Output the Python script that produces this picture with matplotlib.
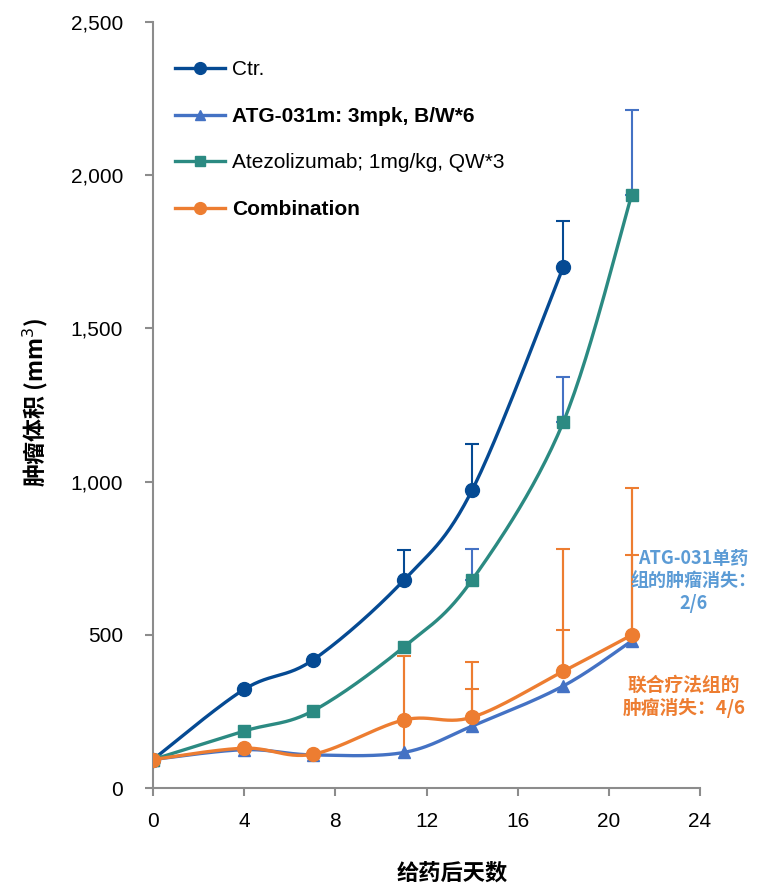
import numpy as np
import matplotlib
matplotlib.use("Agg")
import matplotlib.pyplot as plt
from matplotlib.ticker import FuncFormatter
from matplotlib.lines import Line2D

# ---------------- data ----------------
days = [0, 4, 7, 11, 14, 18, 21]
ctr_days = [0, 4, 7, 11, 14, 18]
ctr = [93, 322, 417, 678, 972, 1700]
atg = [93, 125, 108, 116, 202, 333, 480]
atezo = [93, 186, 251, 460, 679, 1194, 1935]
combo = [93, 130, 110, 222, 231, 381, 499]

ctr_err_days = [11, 14, 18]
ctr_err_top = [777, 1124, 1850]
atezo_err_days = [14, 18, 21]
atezo_err_top = [780, 1341, 2213]
combo_err_days = [11, 14, 18, 21]
combo_err_top = [431, 411, 780, 979]
combo_err_low = [117, 231, 381, 499]
combo_err_mid_days = [14, 18, 21]
combo_err_mid = [323, 516, 760]

labels = ["Ctr.", "ATG-031m: 3mpk, B/W*6", "Atezolizumab; 1mg/kg, QW*3", "Combination"]
x_ticks = [0, 4, 8, 12, 16, 20, 24]
y_ticks = [0, 500, 1000, 1500, 2000, 2500]
ann_atg = "ATG-031单药\n组的肿瘤消失：\n2/6"
ann_combo = "联合疗法组的\n肿瘤消失：4/6"
xlabel = "给药后天数"
ylabel = "肿瘤体积 (mm$^3$)"

C_CTR = "#054A93"
C_ATG = "#4472C4"
C_ATZ = "#2B8A82"
C_CMB = "#ED7D31"
C_ANN = "#5B9BD5"
GRAY = "#8C8C8C"

plt.rcParams['font.family'] = ['Liberation Sans', 'DejaVu Sans']


def smooth(xs, ys, n=30):
    p = np.column_stack([xs, ys]).astype(float)
    p = np.vstack([p[0], p, p[-1]])
    out = []
    t = np.linspace(0, 1, n)[:, None]
    for i in range(1, len(p) - 2):
        p0, p1, p2, p3 = p[i - 1], p[i], p[i + 1], p[i + 2]
        seg = 0.5 * ((2 * p1) + (-p0 + p2) * t + (2 * p0 - 5 * p1 + 4 * p2 - p3) * t ** 2
                     + (-p0 + 3 * p1 - 3 * p2 + p3) * t ** 3)
        out.append(seg if i == 1 else seg[1:])
    out = np.vstack(out)
    return out[:, 0], out[:, 1]


fig = plt.figure(figsize=(7.59, 8.85), dpi=100)
ax = fig.add_axes([0.2016, 0.1096, 0.7207, 0.8655])

lw = 2.4
cap = 5

# error bars (drawn first, behind lines)
ax.errorbar(ctr_err_days, [ctr[ctr_days.index(d)] for d in ctr_err_days],
            yerr=[[0] * 3, [t - ctr[ctr_days.index(d)] for d, t in zip(ctr_err_days, ctr_err_top)]],
            fmt='none', ecolor=C_CTR, elinewidth=1.5, capsize=cap, capthick=1.5, zorder=2)
ax.errorbar(atezo_err_days, [atezo[days.index(d)] for d in atezo_err_days],
            yerr=[[0] * 3, [t - atezo[days.index(d)] for d, t in zip(atezo_err_days, atezo_err_top)]],
            fmt='none', ecolor=C_ATG, elinewidth=1.5, capsize=cap, capthick=1.5, zorder=2)
cm = [combo[days.index(d)] for d in combo_err_days]
ax.errorbar(combo_err_days, cm,
            yerr=[[m - l for m, l in zip(cm, combo_err_low)], [t - m for t, m in zip(combo_err_top, cm)]],
            fmt='none', ecolor=C_CMB, elinewidth=1.5, capsize=0, zorder=2)
ax.errorbar(combo_err_days, cm,
            yerr=[[0] * 4, [t - m for t, m in zip(combo_err_top, cm)]],
            fmt='none', ecolor=C_CMB, elinewidth=1.5, capsize=cap, capthick=1.5, zorder=2)
cm2 = [combo[days.index(d)] for d in combo_err_mid_days]
ax.errorbar(combo_err_mid_days, cm2,
            yerr=[[0] * 3, [t - m for t, m in zip(combo_err_mid, cm2)]],
            fmt='none', ecolor=C_CMB, elinewidth=1.5, capsize=cap, capthick=1.5, zorder=2)

series = [
    (ctr_days, ctr, C_CTR, 'o', 10),
    (days, atg, C_ATG, '^', 9),
    (days, atezo, C_ATZ, 's', 8),
    (days, combo, C_CMB, 'o', 10),
]
handles = []
for i, (xs, ys, c, m, ms) in enumerate(series):
    sx, sy = smooth(xs, ys)
    ax.plot(sx, sy, color=c, lw=lw, zorder=3 + i, solid_capstyle='round')
    ax.plot(xs, ys, linestyle='none', marker=m, color=c, markersize=ms, zorder=3 + i)
    handles.append(Line2D([], [], color=c, lw=lw, marker=m, markersize=ms * 0.85))

ax.set_xlim(0, 24)
ax.set_ylim(0, 2500)
ax.set_xticks(x_ticks)
ax.set_yticks(y_ticks)
ax.yaxis.set_major_formatter(FuncFormatter(lambda v, p: f"{int(v):,}"))
for s in ['top', 'right']:
    ax.spines[s].set_visible(False)
for s in ['left', 'bottom']:
    ax.spines[s].set_color(GRAY)
    ax.spines[s].set_linewidth(1.5)
ax.tick_params(axis='both', direction='out', length=6, width=1.5, color=GRAY,
               labelsize=15, labelcolor='black')
ax.tick_params(axis='y', pad=15.5)
ax.tick_params(axis='x', pad=11)

leg = ax.legend(handles, labels, loc='upper left', bbox_to_anchor=(0.04, 0.950),
                frameon=False, fontsize=15, handlelength=2.4, handletextpad=0.34,
                labelspacing=1.32, borderpad=0, borderaxespad=0)
for i in (1, 3):
    leg.get_texts()[i].set_fontweight('bold')

cjk = ['Noto Sans CJK SC', 'DejaVu Sans']
ax.text(0.988, 0.270, ann_atg, transform=ax.transAxes, ha='center', va='center',
        color=C_ANN, fontsize=13, fontweight='bold', family=cjk, linespacing=1.25)
ax.text(0.971, 0.119, ann_combo, transform=ax.transAxes, ha='center', va='center',
        color=C_CMB, fontsize=13.5, fontweight='bold', family=cjk, linespacing=1.2)

fig.text(0.5955, 0.0136, xlabel, ha='center', va='center', fontsize=16,
         fontweight='bold', family=cjk)
fig.text(0.047, 0.546, ylabel, ha='center', va='center', rotation=90, fontsize=16.5,
         fontweight='bold', family=cjk)

fig.savefig("out.png", dpi=100)
